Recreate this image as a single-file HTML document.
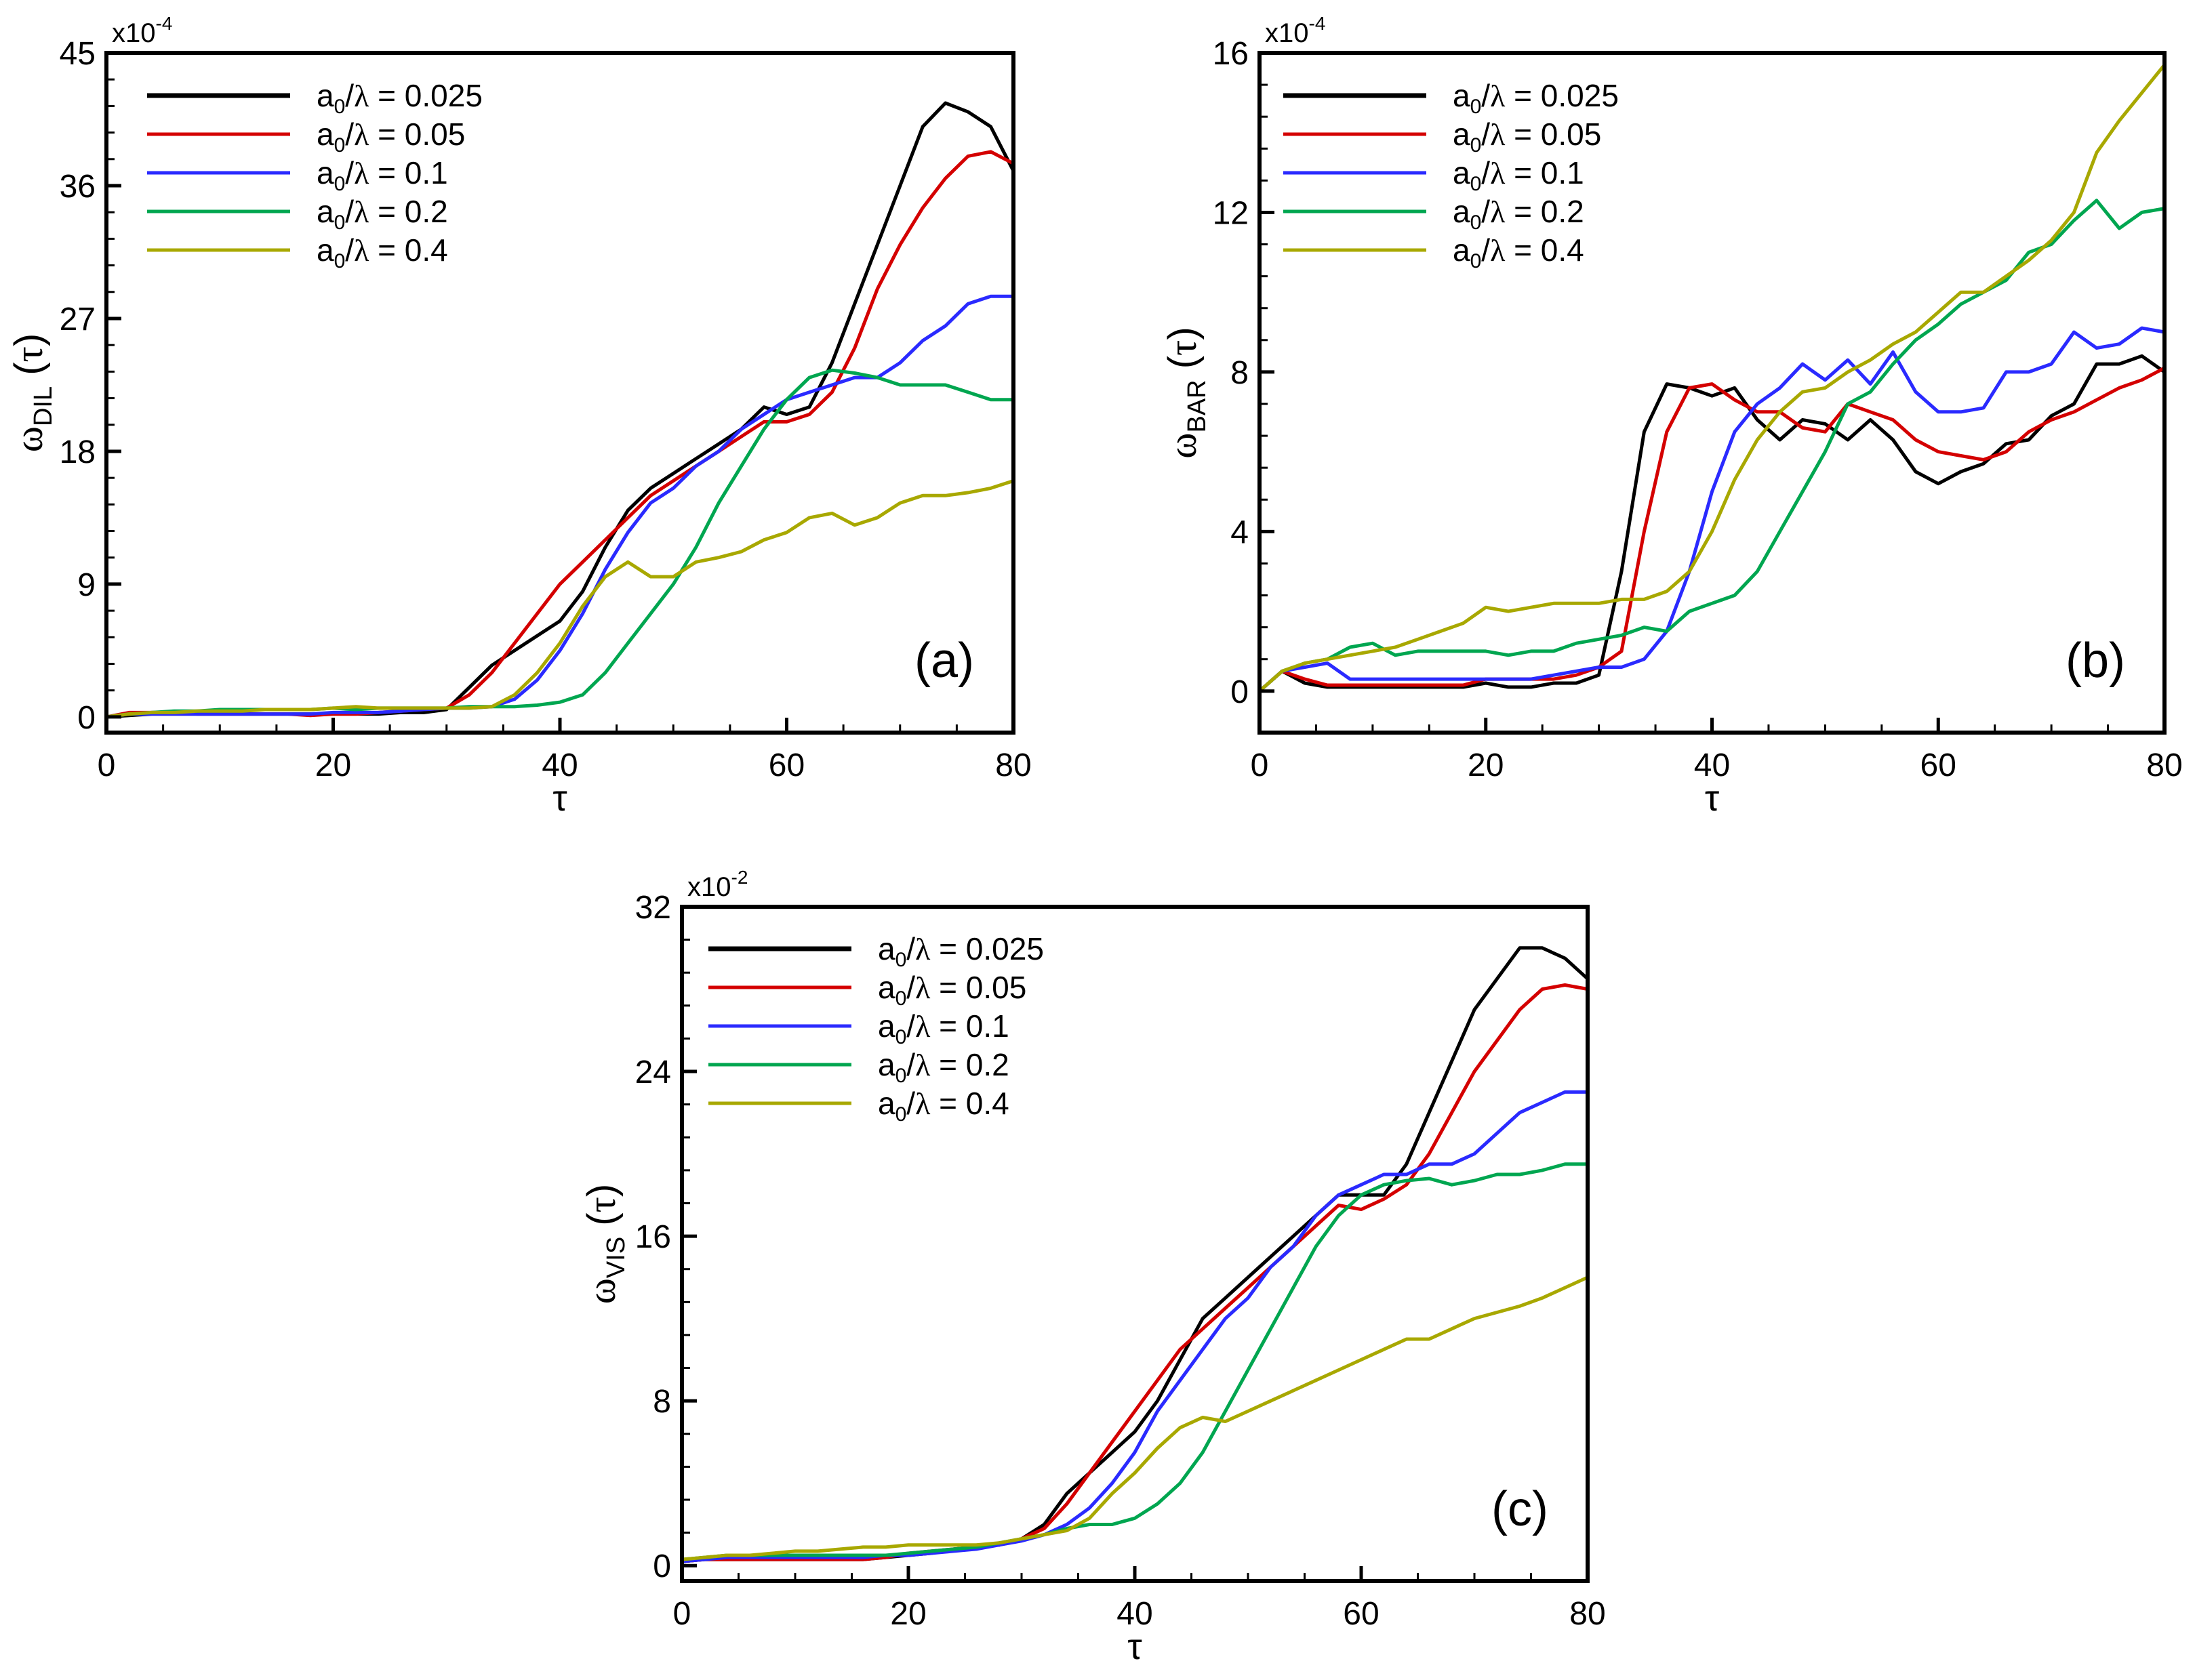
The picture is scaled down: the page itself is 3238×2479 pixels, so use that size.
<!DOCTYPE html>
<html><head><meta charset="utf-8"><style>
html,body{margin:0;padding:0;background:#fff}
svg{display:block}
text{font-family:"Liberation Sans",sans-serif;fill:#000}
</style></head><body>
<svg id="fig" width="3238" height="2479" viewBox="0 0 3238 2479" xmlns="http://www.w3.org/2000/svg"></svg>
<script>
// tau samples every 2 units 0..80
const tau = Array.from({length:41},(_, i)=>i*2);
const legendLabels = ["0.025","0.05","0.1","0.2","0.4"];
const colors = ["#000000","#d40000","#2a2aff","#00a650","#a8a800"];

// Panel (a) omega_DIL x1e-4
const dilBlack=[0,0.1,0.2,0.2,0.2,0.2,0.2,0.2,0.2,0.2,0.2,0.2,0.2,0.3,0.3,0.5,2,3.5,4.5,5.5,6.5,8.5,11.5,14,15.5,16.5,17.5,18.5,19.5,21,20.5,21,24,28,32,36,40,41.6,41,40,37];
const dilRed=[0,0.3,0.3,0.3,0.2,0.2,0.2,0.2,0.2,0.1,0.2,0.2,0.3,0.4,0.5,0.6,1.5,3,5,7,9,10.5,12,13.5,15,16,17,18,19,20,20,20.5,22,25,29,32,34.5,36.5,38,38.3,37.5];
const dilBlue=[0,0.2,0.2,0.2,0.2,0.2,0.2,0.2,0.2,0.2,0.3,0.3,0.3,0.4,0.5,0.6,0.6,0.7,1.2,2.5,4.5,7,10,12.5,14.5,15.5,17,18,19.5,20.5,21.5,22,22.5,23,23,24,25.5,26.5,28,28.5,28.5];
const dilGreen=[0,0.2,0.3,0.4,0.4,0.5,0.5,0.5,0.5,0.5,0.6,0.5,0.6,0.6,0.6,0.6,0.7,0.7,0.7,0.8,1,1.5,3,5,7,9,11.5,14.5,17,19.5,21.5,23,23.5,23.3,23,22.5,22.5,22.5,22,21.5,21.5];
const dilOlive=[0,0.2,0.3,0.3,0.4,0.4,0.4,0.5,0.5,0.5,0.6,0.7,0.6,0.6,0.6,0.6,0.6,0.7,1.5,3,5,7.5,9.5,10.5,9.5,9.5,10.5,10.8,11.2,12,12.5,13.5,13.8,13,13.5,14.5,15,15,15.2,15.5,16];

// Panel (b) omega_BAR x1e-4
const barBlack=[0,0.5,0.2,0.1,0.1,0.1,0.1,0.1,0.1,0.1,0.2,0.1,0.1,0.2,0.2,0.4,3,6.5,7.7,7.6,7.4,7.6,6.8,6.3,6.8,6.7,6.3,6.8,6.3,5.5,5.2,5.5,5.7,6.2,6.3,6.9,7.2,8.2,8.2,8.4,8];
const barRed=[0,0.5,0.3,0.15,0.15,0.15,0.15,0.15,0.15,0.15,0.3,0.3,0.3,0.3,0.4,0.6,1,4,6.5,7.6,7.7,7.3,7,7,6.6,6.5,7.2,7,6.8,6.3,6,5.9,5.8,6,6.5,6.8,7,7.3,7.6,7.8,8.1];
const barBlue=[0,0.5,0.6,0.7,0.3,0.3,0.3,0.3,0.3,0.3,0.3,0.3,0.3,0.4,0.5,0.6,0.6,0.8,1.5,3,5,6.5,7.2,7.6,8.2,7.8,8.3,7.7,8.5,7.5,7,7,7.1,8,8,8.2,9,8.6,8.7,9.1,9];
const barGreen=[0,0.5,0.7,0.8,1.1,1.2,0.9,1,1,1,1,0.9,1,1,1.2,1.3,1.4,1.6,1.5,2,2.2,2.4,3,4,5,6,7.2,7.5,8.2,8.8,9.2,9.7,10,10.3,11,11.2,11.8,12.3,11.6,12,12.1];
const barOlive=[0,0.5,0.7,0.8,0.9,1,1.1,1.3,1.5,1.7,2.1,2,2.1,2.2,2.2,2.2,2.3,2.3,2.5,3,4,5.3,6.3,7,7.5,7.6,8,8.3,8.7,9,9.5,10,10,10.4,10.8,11.3,12,13.5,14.3,15,15.7];

// Panel (c) omega_VIS x1e-2
const visBlack=[0.2,0.3,0.3,0.3,0.3,0.3,0.3,0.3,0.3,0.4,0.5,0.6,0.8,0.9,1,1.3,2,3.5,4.5,5.5,6.5,8,10,12,13,14,15,16,17,18,18,18,19.5,22,24.5,27,28.5,30,30,29.5,28.5];
const visRed=[0.2,0.3,0.3,0.3,0.3,0.3,0.3,0.3,0.3,0.4,0.6,0.7,0.8,0.9,1,1.3,1.8,3,4.5,6,7.5,9,10.5,11.5,12.5,13.5,14.5,15.5,16.5,17.5,17.3,17.8,18.5,20,22,24,25.5,27,28,28.2,28];
const visBlue=[0.2,0.3,0.4,0.4,0.4,0.4,0.4,0.4,0.4,0.5,0.5,0.6,0.7,0.8,1,1.2,1.5,2,2.8,4,5.5,7.5,9,10.5,12,13,14.5,15.5,17,18,18.5,19,19,19.5,19.5,20,21,22,22.5,23,23];
const visGreen=[0.3,0.4,0.5,0.5,0.5,0.5,0.5,0.5,0.5,0.5,0.6,0.7,0.8,0.9,1.1,1.3,1.5,1.8,2,2,2.3,3,4,5.5,7.5,9.5,11.5,13.5,15.5,17,18,18.5,18.7,18.8,18.5,18.7,19,19,19.2,19.5,19.5];
const visOlive=[0.3,0.4,0.5,0.5,0.6,0.7,0.7,0.8,0.9,0.9,1,1,1,1,1.1,1.3,1.5,1.7,2.3,3.5,4.5,5.7,6.7,7.2,7,7.5,8,8.5,9,9.5,10,10.5,11,11,11.5,12,12.3,12.6,13,13.5,14];

const yTicksA=[0,9,18,27,36,45];
const yTicksB=[0,4,8,12,16];
const yTicksC=[0,8,16,24,32];
const xTicks=[0,20,40,60,80];

const NS="http://www.w3.org/2000/svg";
const svg=document.getElementById('fig');
function el(tag,attrs,parent,txt){const e=document.createElementNS(NS,tag);for(const k in attrs)e.setAttribute(k,attrs[k]);if(txt!==undefined)e.textContent=txt;(parent||svg).appendChild(e);return e;}

function panel(cfg){
  const g=el('g',{});
  
  
  const {L,R,T,B,ymin,ymax,yMinor}=cfg;
  const sx=v=>L+(v-0)/80*(R-L);
  const sy=v=>B-(v-ymin)/(ymax-ymin)*(B-T);
  cfg.series.forEach((s,i)=>{
    const d=tau.map((t,j)=>(j?'L':'M')+sx(t).toFixed(1)+' '+sy(s[j]).toFixed(1)).join(' ');
    const p=el('path',{d:d,fill:'none',stroke:colors[i],'stroke-width':5,'stroke-linejoin':'round'},g);
    
    
  });
  const fr=el('rect',{x:L,y:T,width:R-L,height:B-T,fill:'none',stroke:'#000','stroke-width':6},g);
  
  
  for(let v=5;v<80;v+=5){const maj=v%20===0;el('line',{x1:sx(v),x2:sx(v),y1:B,y2:B-(maj?22:12),stroke:'#000','stroke-width':maj?5:3},g);}
  xTicks.forEach(v=>{const t=el('text',{x:sx(v),y:B+64,'font-size':48,'text-anchor':'middle'},g,String(v));
    
    });
  for(let v=0;v<=ymax+1e-6;v+=yMinor){const maj=cfg.yTicks.some(k=>Math.abs(k-v)<1e-6);el('line',{x1:L,x2:L+(maj?22:12),y1:sy(v),y2:sy(v),stroke:'#000','stroke-width':maj?5:3},g);}
  cfg.yTicks.forEach(v=>{const t=el('text',{x:L-16,y:sy(v)+17,'font-size':48,'text-anchor':'end'},g,String(v));
    
    });
  const m=el('text',{x:L+8,y:T-16,'font-size':40},g);
  
  
  m.innerHTML='x10<tspan dy="-18" font-size="28">'+cfg.exp+'</tspan>';
  const xt=el('text',{x:(L+R)/2,y:B+115,'font-size':54,'text-anchor':'middle','font-family':'Liberation Serif, serif'},g,'τ');
  
  
  const yt=el('text',{x:0,y:0,'font-size':58,'text-anchor':'middle',transform:`translate(${cfg.ytx},${(T+B)/2}) rotate(-90)`},g);
  
  
  yt.innerHTML='<tspan font-family="Liberation Serif, serif">ω</tspan><tspan font-size="38" dy="14">'+cfg.sub+'</tspan><tspan dy="-14"> (</tspan><tspan font-family="Liberation Serif, serif">τ</tspan>)';
  const pl=el('text',{x:R-58,y:B-82,'font-size':72,'text-anchor':'end'},g,cfg.label);
  
  
  const lg=el('g',{},g);
  
  
  legendLabels.forEach((lab,i)=>{
    const y=cfg.legY+i*57;
    const e=el('g',{},lg);
    
    
    el('line',{x1:cfg.legX,x2:cfg.legX+211,y1:y,y2:y,stroke:colors[i],'stroke-width':i===0?7:5},e);
    const t=el('text',{x:cfg.legX+250,y:y+16,'font-size':46},e);
    t.innerHTML='a<tspan font-size="30" dy="10">0</tspan><tspan dy="-10">/</tspan><tspan font-family="Liberation Serif, serif">λ</tspan> = '+lab;
  });
}

panel({name:'panel-a-dil',L:157,R:1495,T:78,B:1081,ymin:-1.06,ymax:45,yMinor:1.8,yTicks:yTicksA,exp:'-4',sub:'DIL',label:'(a)',ytx:62,legX:217,legY:141,
  series:[dilBlack,dilRed,dilBlue,dilGreen,dilOlive]});
panel({name:'panel-b-bar',L:1858,R:3193,T:78,B:1081,ymin:-1.04,ymax:16,yMinor:0.8,yTicks:yTicksB,exp:'-4',sub:'BAR',label:'(b)',ytx:1764,legX:1893,legY:141,
  series:[barBlack,barRed,barBlue,barGreen,barOlive]});
panel({name:'panel-c-vis',L:1006,R:2342,T:1338,B:2333,ymin:-0.75,ymax:32,yMinor:1.6,yTicks:yTicksC,exp:'-2',sub:'VIS',label:'(c)',ytx:907,legX:1045,legY:1400,
  series:[visBlack,visRed,visBlue,visGreen,visOlive]});
</script>
</body></html>
